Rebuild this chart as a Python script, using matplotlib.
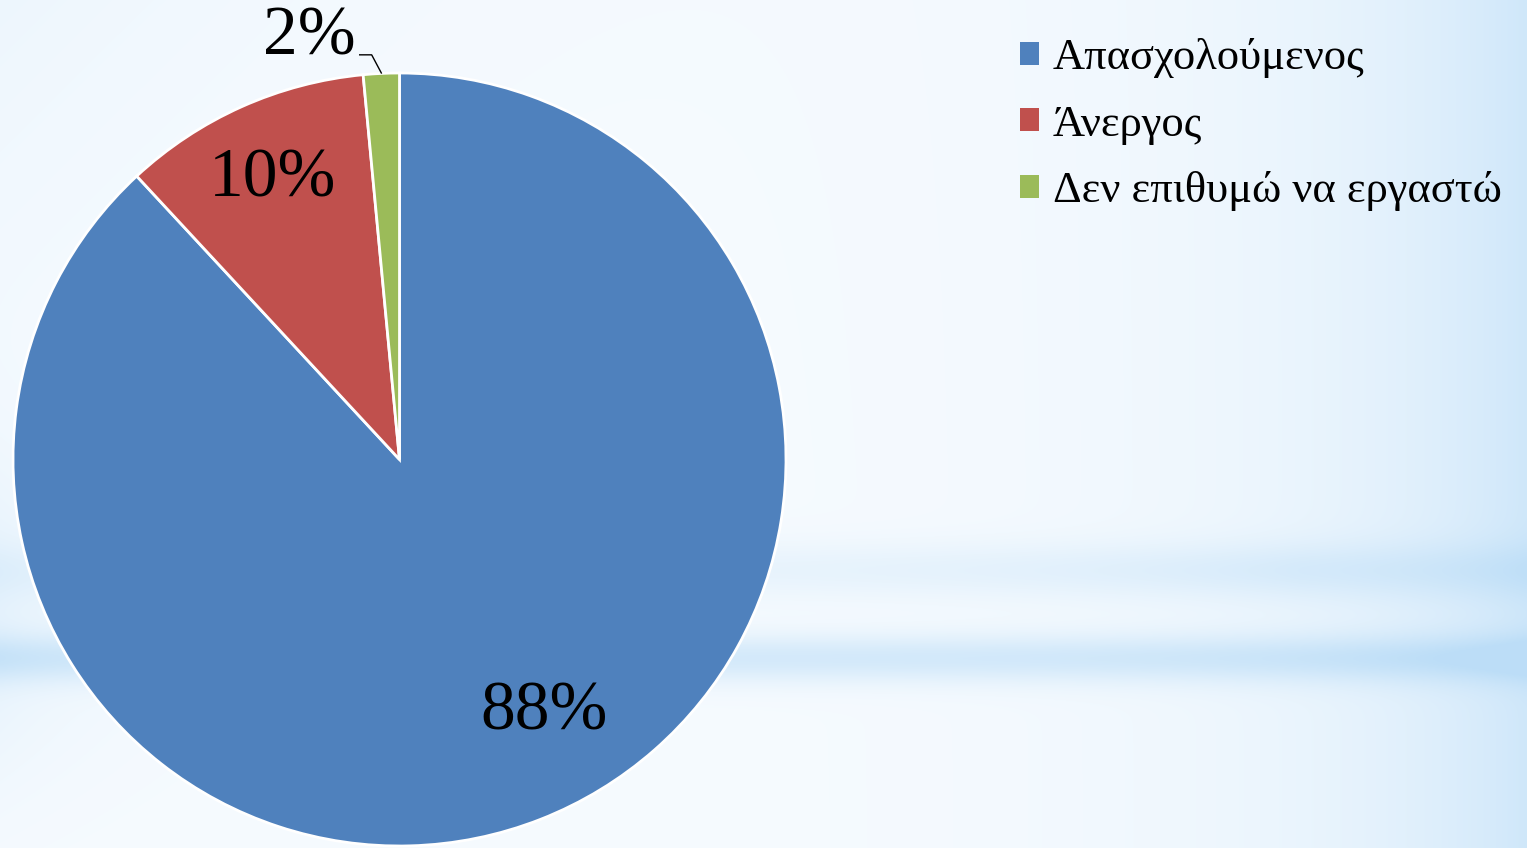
import numpy as np
import matplotlib.pyplot as plt
from matplotlib.patches import Patch

plt.rcParams['font.family'] = ['Liberation Serif', 'DejaVu Serif']

# δεδομένα
categories = ["Απασχολούμενος", "Άνεργος", "Δεν επιθυμώ να εργαστώ"]
values = [88.1, 10.4, 1.5]
pct_labels = ["88%", "10%", "2%"]
colors = ["#4f81bd", "#c0504d", "#9bbb59"]

fig = plt.figure(figsize=(15.27, 8.48), dpi=100)

# φόντο με απαλή μπλε διαβάθμιση
bg = fig.add_axes([0, 0, 1, 1], zorder=0)
H, W = 848, 1527
yy, xx = np.mgrid[0:H, 0:W]
w = 0.04 + 0.65 * np.exp(-(W - xx) / 200.0)
w += 0.35 * np.exp(-((yy - 570) / 28.0) ** 2) * (0.5 + 0.5 * np.exp(-np.abs(xx - 1300) / 400.0))
w += 0.55 * np.exp(-((yy - 658) / 24.0) ** 2)
w += 0.25 * np.exp(-xx / 100.0) * np.exp(-((yy - 620) / 150.0) ** 2)
w += 0.15 * np.exp(-xx / 300.0) * np.exp(-yy / 300.0)
w = np.clip(w, 0, 1)
light = np.array([0.975, 0.988, 1.0])
blue = np.array([0.74, 0.87, 0.97])
img = light[None, None, :] * (1 - w[..., None]) + blue[None, None, :] * w[..., None]
bg.imshow(img, aspect='auto', extent=[0, 1, 0, 1])
bg.axis('off')

# πίτα
ax = fig.add_axes([13 / 1527, 2 / 848, 773 / 1527, 773 / 848], zorder=1)
ax.pie(values, colors=colors, startangle=90, counterclock=False,
       wedgeprops=dict(edgecolor='white', linewidth=2))
ax.set_xlim(-1, 1)
ax.set_ylim(-1, 1)
ax.set_aspect('equal')

ax.text(0.375, -0.654, pct_labels[0], fontsize=50, ha='center', va='center')
ax.text(-0.328, 0.724, pct_labels[1], fontsize=50, ha='center', va='center')
ax.text(-0.233, 1.09, pct_labels[2], fontsize=50, ha='center', va='center')
# γραμμή οδηγός για το 2%
ax.plot([-0.103, -0.072, -0.047], [1.047, 1.047, 1.0], color='black', lw=1, clip_on=False)

# υπόμνημα
handles = [Patch(facecolor=c) for c in colors]
fig.legend(handles, categories, loc='upper left', bbox_to_anchor=(1020 / 1527, 1 - 38 / 848),
           frameon=False, fontsize=32, handlelength=0.42, handleheight=0.42,
           handletextpad=0.32, labelspacing=0.6, borderaxespad=0, borderpad=0)

plt.savefig("out.png", dpi=100)
